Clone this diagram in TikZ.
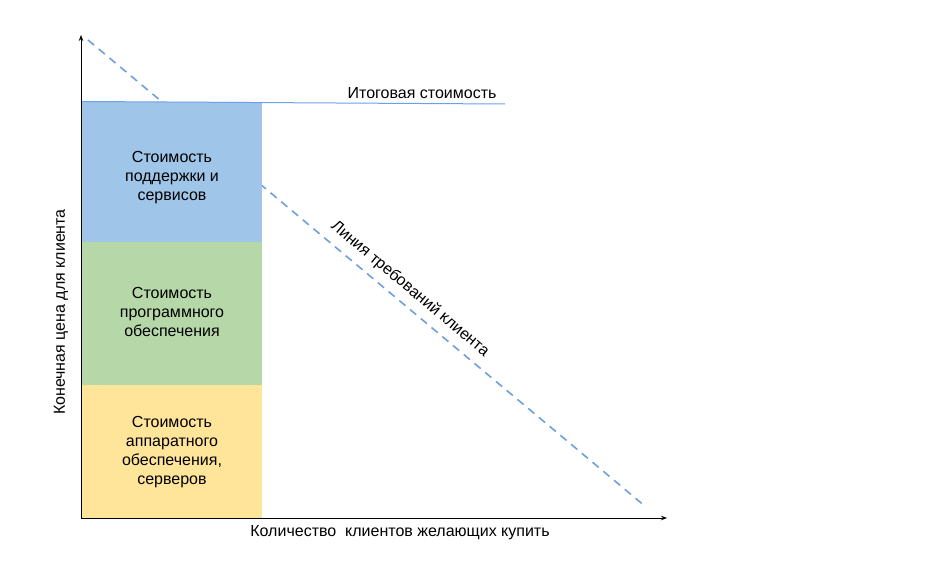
\documentclass[tikz,border=0pt]{standalone}
\usepackage{fontspec}
\setmainfont{Liberation Sans}
\usetikzlibrary{arrows.meta}
\begin{document}
\begin{tikzpicture}[x=1pt,y=-1pt,
  lbl/.style={font=\fontsize{16}{19}\selectfont, align=center, inner sep=0pt},
  axis/.style={line width=0.9pt, -{Stealth[length=6pt,width=4.5pt]}},
  demand/.style={draw={rgb,255:red,111;green,160;blue,220}, line width=1.6pt, dash pattern=on 8pt off 6pt}]
\useasboundingbox (0,0) rectangle (947,580);
% demand line (behind the bars)
\coordinate (d1) at (88,40);
\coordinate (d2) at (646,507);
\draw[demand] (d1) -- (d2);
% bars
\fill[fill={rgb,255:red,159;green,197;blue,232}] (82,102) rectangle (262,242);
\fill[fill={rgb,255:red,182;green,215;blue,168}] (82,242) rectangle (262,385);
\fill[fill={rgb,255:red,255;green,229;blue,153}] (82,385) rectangle (262,518);
\node[lbl] (sup) at (172,178) {Стоимость\\поддержки и\\сервисов};
\node[lbl] (soft) at (172,312) {Стоимость\\программного\\обеспечения};
\node[lbl] (hard) at (172,452) {Стоимость\\аппаратного\\обеспечения,\\серверов};
% axes
\coordinate (o) at (81,518);
\coordinate (ytop) at (81,35);
\coordinate (xend) at (667,518);
\draw[axis] (o) -- (ytop);
\draw[axis] (o) -- (xend);
% total line
\coordinate (t1) at (82,101.5);
\coordinate (t2) at (505,104);
\draw[draw={rgb,255:red,109;green,158;blue,235}, line width=1pt] (t1) -- (t2);
\node[lbl, anchor=base] (total) at (422,99) {Итоговая стоимость};
\node[lbl, rotate=-40] (dl) at (410,289) {Линия требований клиента};
% axis labels
\node[lbl, rotate=90] (ylab) at (61,312) {Конечная цена для клиента};
\node[lbl] (xlab) at (400,533) {Количество\ \ клиентов желающих купить};
\end{tikzpicture}
\end{document}
